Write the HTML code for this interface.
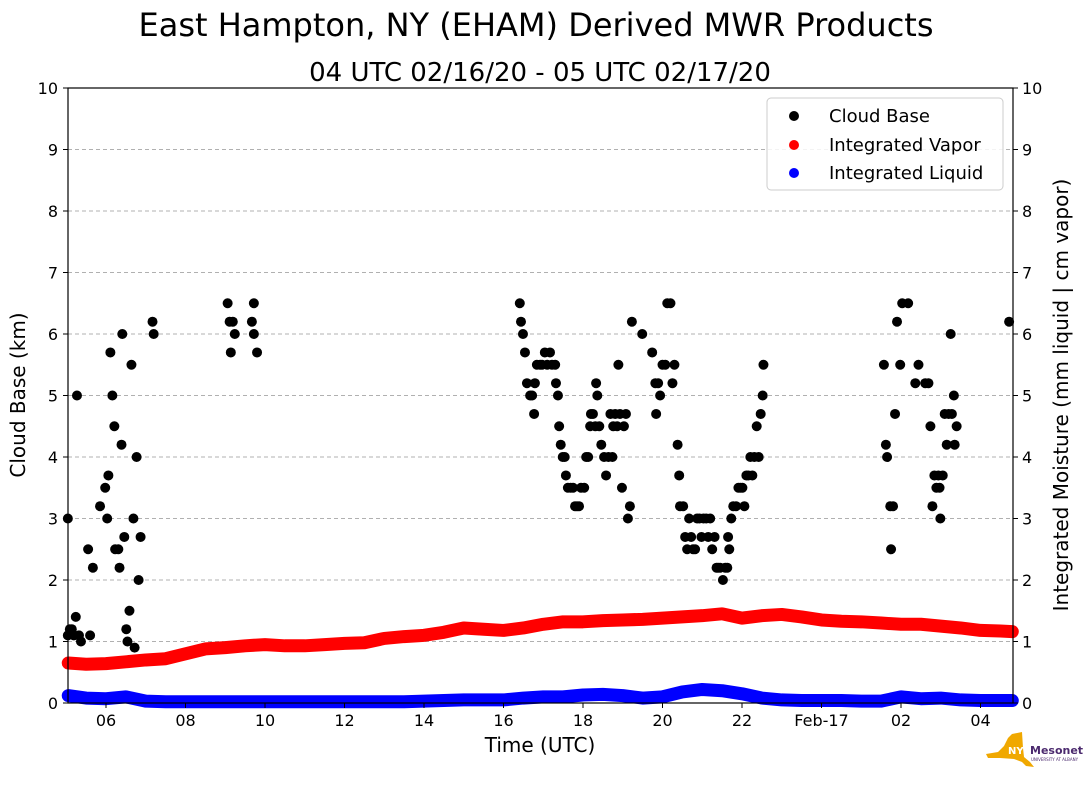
<!DOCTYPE html>
<html><head><meta charset="utf-8"><style>
body{margin:0;background:#fff;width:1089px;height:804px;overflow:hidden;font-family:"Liberation Sans","DejaVu Sans",sans-serif}
</style></head><body>
<svg id="chart" width="1089" height="804" xmlns="http://www.w3.org/2000/svg" font-family="DejaVu Sans, Liberation Sans, sans-serif">
<text x="536" y="36" font-size="32" text-anchor="middle">East Hampton, NY (EHAM) Derived MWR Products</text>
<text x="540" y="81" font-size="26" text-anchor="middle">04 UTC 02/16/20 - 05 UTC 02/17/20</text>
<g id="grid"></g>
<g id="series"></g>
<rect x="68" y="88" width="945" height="615" fill="none" stroke="#000" stroke-width="1.2"/>
<g id="axes" font-size="16"></g>
<text x="540" y="752" font-size="20" text-anchor="middle">Time (UTC)</text>
<text transform="translate(25,395) rotate(-90)" font-size="20" text-anchor="middle">Cloud Base (km)</text>
<text transform="translate(1068,395) rotate(-90)" font-size="20" text-anchor="middle">Integrated Moisture (mm liquid | cm vapor)</text>
<g>
<rect x="767" y="98" width="236" height="92" rx="4" fill="#fff" fill-opacity="0.85" stroke="#ccc"/>
<circle cx="794" cy="116" r="5" fill="#000"/><text x="829" y="122" font-size="18">Cloud Base</text>
<circle cx="794" cy="145" r="5" fill="red"/><text x="829" y="151" font-size="18">Integrated Vapor</text>
<circle cx="794" cy="173" r="5" fill="blue"/><text x="829" y="179" font-size="18">Integrated Liquid</text>
</g>
<g>
<path d="M986 754 L998 752 L1004 746 L1008 738 L1012 734 L1022 732 L1023 748 L1024 757 L1030 762 L1034 767 L1026 766 L1022 762 L1014 759 L1000 758 L988 758 Z" fill="#f0a800"/>
<text x="1008" y="754" font-size="10" font-weight="bold" fill="#fff">NYS</text>
<text x="1030" y="754" font-size="11" font-weight="bold" fill="#4b2a6e">Mesonet</text>
<text x="1031" y="761" font-size="4" fill="#4b2a6e">UNIVERSITY AT ALBANY</text>
</g>
</svg>
<script>
const hours=[5.04,5.04,5.09,5.14,5.19,5.24,5.27,5.32,5.37,5.55,5.60,5.67,5.85,5.98,6.03,6.06,6.11,6.16,6.21,6.23,6.31,6.34,6.39,6.41,6.46,6.51,6.54,6.59,6.64,6.69,6.72,6.77,6.82,6.87,7.17,7.20,
9.06,9.11,9.14,9.19,9.24,9.67,9.72,9.72,9.80,
16.41,16.44,16.49,16.54,16.59,16.67,16.72,16.77,16.79,16.84,16.92,16.97,17.04,17.10,17.17,17.22,17.30,17.32,17.37,17.40,
17.44,17.49,17.54,17.57,17.62,17.69,17.75,17.80,17.85,17.90,17.95,18.03,18.08,18.13,18.18,18.20,18.25,18.31,18.33,18.36,18.41,18.46,18.53,18.58,18.64,18.69,18.74,18.76,18.81,18.86,18.89,
18.93,18.98,19.03,19.08,19.13,19.18,19.23,19.49,19.74,19.82,19.84,19.89,19.94,20.00,20.07,20.12,20.20,20.25,20.30,20.38,
20.42,20.44,20.52,20.57,20.62,20.67,20.72,20.77,20.82,20.87,20.93,20.98,21.03,21.10,21.15,21.20,21.25,21.31,21.36,
21.40,21.45,21.52,21.58,21.63,21.65,21.68,21.73,21.78,21.85,21.91,21.96,22.01,22.06,22.11,22.16,22.21,22.26,22.31,22.37,22.42,22.47,22.52,22.54,
25.57,25.62,25.65,25.73,25.75,25.80,25.85,25.90,25.98,26.03,26.18,26.36,26.44,26.61,26.69,26.74,26.79,26.84,26.89,26.94,26.97,26.99,27.05,27.10,27.15,27.20,27.25,27.28,27.33,27.35,27.40,28.72];
const cloudBase=[3.0,1.1,1.2,1.2,1.1,1.4,5.0,1.1,1.0,2.5,1.1,2.2,3.2,3.5,3.0,3.7,5.7,5.0,4.5,2.5,2.5,2.2,4.2,6.0,2.7,1.2,1.0,1.5,5.5,3.0,0.9,4.0,2.0,2.7,6.2,6.0,
6.5,6.2,5.7,6.2,6.0,6.2,6.5,6.0,5.7,
6.5,6.2,6.0,5.7,5.2,5.0,5.0,4.7,5.2,5.5,5.5,5.5,5.7,5.5,5.7,5.5,5.5,5.2,5.0,4.5,4.2,4.0,4.0,3.7,3.5,3.5,3.5,3.2,3.2,3.2,3.5,3.5,4.0,4.0,4.5,4.7,4.7,4.5,5.2,5.0,4.5,4.2,4.0,3.7,4.0,4.7,4.0,4.5,4.7,4.5,5.5,4.7,3.5,4.5,4.7,3.0,3.2,6.2,6.0,5.7,5.2,4.7,5.2,5.0,5.5,5.5,6.5,6.5,5.2,5.5,4.2,3.7,3.2,3.2,2.7,2.5,3.0,2.7,2.5,2.5,3.0,3.0,2.7,3.0,3.0,2.7,3.0,2.5,2.7,2.2,2.2,2.2,2.0,2.2,2.2,2.7,2.5,3.0,3.2,3.2,3.5,3.5,3.5,3.2,3.7,3.7,4.0,3.7,4.0,4.5,4.0,4.7,5.0,5.5,
5.5,4.2,4.0,3.2,2.5,3.2,4.7,6.2,5.5,6.5,6.5,5.2,5.5,5.2,5.2,4.5,3.2,3.7,3.5,3.7,3.5,3.0,3.7,4.7,4.2,4.7,6.0,4.7,5.0,4.2,4.5,6.2];
const moistHours=[5.05,5.5,6,6.5,7,7.5,8,8.5,9,9.5,10,10.5,11,11.5,12,12.5,13,13.5,14,14.5,15,15.5,16,16.5,17,17.5,18,18.5,19,19.5,20,20.5,21,21.5,22,22.5,23,23.5,24,24.5,25,25.5,26,26.5,27,27.5,28,28.5,28.8];
const vapor=[0.65,0.63,0.64,0.67,0.70,0.72,0.80,0.88,0.90,0.93,0.95,0.93,0.93,0.95,0.97,0.98,1.05,1.08,1.10,1.15,1.22,1.20,1.18,1.22,1.28,1.32,1.32,1.34,1.35,1.36,1.38,1.40,1.42,1.45,1.38,1.42,1.44,1.40,1.35,1.33,1.32,1.30,1.28,1.28,1.25,1.22,1.18,1.17,1.16];
const liquid=[0.12,0.08,0.07,0.10,0.03,0.02,0.02,0.02,0.02,0.02,0.02,0.02,0.02,0.02,0.02,0.02,0.02,0.02,0.03,0.04,0.05,0.05,0.05,0.08,0.10,0.10,0.13,0.14,0.12,0.08,0.10,0.18,0.22,0.20,0.15,0.08,0.05,0.04,0.04,0.04,0.03,0.03,0.10,0.07,0.08,0.05,0.04,0.04,0.04];
const xTicks=[6,8,10,12,14,16,18,20,22,24,26,28];
const xTickLabels=["06","08","10","12","14","16","18","20","22","Feb-17","02","04"];
const yTicks=[0,1,2,3,4,5,6,7,8,9,10];

const NS="http://www.w3.org/2000/svg";
const X=h=>106+(h-6)*39.75;
const Y=v=>703-v*61.5;
function mk(tag,attrs,parent){const e=document.createElementNS(NS,tag);for(const k in attrs)e.setAttribute(k,attrs[k]);parent.appendChild(e);return e;}
const grid=document.getElementById('grid'),axes=document.getElementById('axes'),series=document.getElementById('series');
yTicks.forEach(v=>{
  if(v>0&&v<10){const g=mk('line',{x1:68,x2:1013,y1:Y(v),y2:Y(v),stroke:'#b0b0b0','stroke-dasharray':'4,3'},grid);
  
  }
  mk('line',{x1:63,x2:68,y1:Y(v),y2:Y(v),stroke:'#000'},axes);
  mk('line',{x1:1013,x2:1018,y1:Y(v),y2:Y(v),stroke:'#000'},axes);
  const l=mk('text',{x:58,y:Y(v)+6,'text-anchor':'end'},axes);l.textContent=v;
  
  
  const r=mk('text',{x:1022,y:Y(v)+6},axes);r.textContent=v;
  
  
});
xTicks.forEach((h,i)=>{
  mk('line',{x1:X(h),x2:X(h),y1:703,y2:708,stroke:'#000'},axes);
  const t=mk('text',{x:X(h),y:726,'text-anchor':'middle'},axes);t.textContent=xTickLabels[i];
  
  
});
function band(vals,color,name){
  const pts=moistHours.map((h,i)=>X(h)+','+Y(vals[i])).join(' ');
  const p=mk('polyline',{points:pts,fill:'none',stroke:color,'stroke-width':13,'stroke-linejoin':'round','stroke-linecap':'round'},series);
  
  
}
band(vapor,'red','integrated-vapor-series');
band(liquid,'blue','integrated-liquid-series');
hours.forEach((h,i)=>{
  const c=mk('circle',{cx:X(h),cy:Y(cloudBase[i]),r:5,fill:'#000'},series);
  
  
});
</script>
</body></html>
